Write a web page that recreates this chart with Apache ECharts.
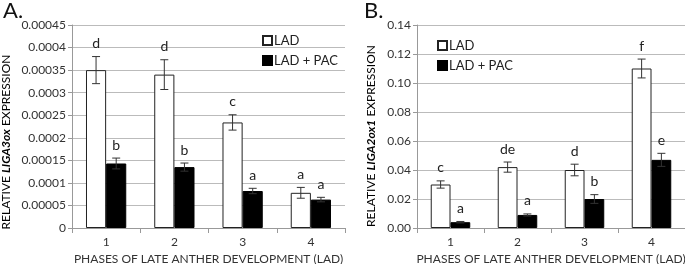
<!DOCTYPE html>
<html><head><meta charset="utf-8">
<script src="https://cdn.jsdelivr.net/npm/echarts@6/dist/echarts.min.js"></script>
<style>html,body{margin:0;padding:0;background:#fff}#c{width:685px;height:264px}</style>
</head><body><div id="c"></div>
<script>
var categories = ['1', '2', '3', '4'];
var ladA = [0.00035, 0.00034, 0.000234, 0.000078];
var ladErrA = [0.00003, 0.000033, 0.000017, 0.000012];
var pacA = [0.000143, 0.000135, 0.000082, 0.000063];
var pacErrA = [0.000012, 0.000009, 0.000006, 0.000005];
var ladLetA = ['d', 'd', 'c', 'a'];
var pacLetA = ['b', 'b', 'a', 'a'];
var ladB = [0.030, 0.042, 0.040, 0.110];
var ladErrB = [0.0025, 0.0035, 0.004, 0.0065];
var pacB = [0.004, 0.009, 0.020, 0.047];
var pacErrB = [0.0005, 0.0007, 0.003, 0.0045];
var ladLetB = ['c', 'de', 'd', 'f'];
var pacLetB = ['a', 'a', 'b', 'e'];

var FONT = 'Lato';
var chart = echarts.init(document.getElementById('c'), null, {renderer: 'canvas'});

function errSeries(name, xi, vals, errs, letters, offset) {
  return {
    type: 'custom', name: name + '_err', xAxisIndex: xi, yAxisIndex: xi, z: 5,
    silent: true,
    data: vals.map(function (v, i) { return [i, v, errs[i]]; }),
    renderItem: function (params, api) {
      var i = api.value(0), v = api.value(1), e = api.value(2);
      var size = api.size([1, 0]);
      var bw = size[0] * 0.295;
      var cx = api.coord([i, v])[0] + offset * bw;
      var top = api.coord([i, v + e])[1];
      var bot = api.coord([i, v - e])[1];
      var cap = 4;
      var st = {stroke: '#333', lineWidth: 1};
      return {type: 'group', children: [
        {type: 'line', shape: {x1: cx, y1: top, x2: cx, y2: bot}, style: st},
        {type: 'line', shape: {x1: cx - cap, y1: top, x2: cx + cap, y2: top}, style: st},
        {type: 'line', shape: {x1: cx - cap, y1: bot, x2: cx + cap, y2: bot}, style: st},
        {type: 'text', style: {text: letters[i], x: cx, y: top - 6, textAlign: 'center', textVerticalAlign: 'bottom', font: '14px "' + FONT + '"', fill: '#222'}}
      ]};
    }
  };
}

function fmtA(v) { return v === 0 ? '0' : String(parseFloat(v.toFixed(5))); }
function fmtB(v) { return v.toFixed(2); }

var axisLabelStyle = {fontFamily: FONT, fontSize: 12, color: '#333'};
var richName = {
  n: {fontFamily: FONT, fontSize: 12, color: '#333'},
  i: {fontFamily: FONT, fontSize: 12, fontStyle: 'italic', fontWeight: 'bold', color: '#333'}
};

function yTitle(x, y, gene) {
  return {type: 'text', x: x, y: y, rotation: Math.PI / 2,
    style: {text: '{n|RELATIVE }{i|' + gene + '}{n| EXPRESSION}', rich: richName,
      align: 'center', verticalAlign: 'middle'}};
}

var SQ = 'path://M0,0L10,0L10,10L0,10Z';

chart.setOption({
  animation: false,
  textStyle: {fontFamily: FONT},
  graphic: [
    {type: 'text', left: 3, top: 0, style: {text: 'A.', font: '22px "' + FONT + '"', fill: '#111'}},
    {type: 'text', left: 364, top: 0, style: {text: 'B.', font: '22px "' + FONT + '"', fill: '#111'}},
    yTitle(6, 142, 'LIGA3ox'),
    yTitle(371, 136, 'LIGA2ox1')
  ],
  legend: [
    {left: 257, top: 29, orient: 'vertical', itemGap: 7, itemWidth: 9, itemHeight: 9,
     data: [{name: 'LAD', icon: SQ}, {name: 'LAD + PAC', icon: SQ}],
     textStyle: {fontFamily: FONT, fontSize: 13, color: '#222', padding: [0, 0, 0, -3]}, selectedMode: false},
    {left: 432, top: 34, orient: 'vertical', itemGap: 7, itemWidth: 9, itemHeight: 9,
     data: [{name: 'LAD', icon: SQ}, {name: 'LAD + PAC', icon: SQ}],
     textStyle: {fontFamily: FONT, fontSize: 13, color: '#222', padding: [0, 0, 0, -3]}, selectedMode: false}
  ],
  grid: [
    {left: 72, top: 25, width: 273, height: 203, containLabel: false, outerBoundsMode: 'none'},
    {left: 417, top: 25, width: 268, height: 203, containLabel: false, outerBoundsMode: 'none'}
  ],
  xAxis: [0, 1].map(function (k) {
    return {
      type: 'category', gridIndex: k, data: categories,
      axisLine: {lineStyle: {color: '#999'}},
      axisTick: {show: true, length: 5, lineStyle: {color: '#999'}},
      axisLabel: Object.assign({margin: 8}, axisLabelStyle),
      name: 'PHASES OF LATE ANTHER DEVELOPMENT (LAD)', nameLocation: 'middle', nameGap: 24,
      nameTextStyle: {fontFamily: FONT, fontSize: 12, color: '#333'}
    };
  }),
  yAxis: [
    {type: 'value', gridIndex: 0, min: 0, max: 0.00045, interval: 0.00005,
     axisLine: {show: true, lineStyle: {color: '#999'}},
     axisTick: {show: true, length: 4, lineStyle: {color: '#999'}},
     splitLine: {lineStyle: {color: '#bbb'}},
     axisLabel: Object.assign({formatter: fmtA, margin: 6}, axisLabelStyle)},
    {type: 'value', gridIndex: 1, min: 0, max: 0.14, interval: 0.02,
     axisLine: {show: true, lineStyle: {color: '#999'}},
     axisTick: {show: true, length: 4, lineStyle: {color: '#999'}},
     splitLine: {lineStyle: {color: '#bbb'}},
     axisLabel: Object.assign({formatter: fmtB, margin: 6}, axisLabelStyle)}
  ],
  series: [
    {type: 'bar', name: 'LAD', xAxisIndex: 0, yAxisIndex: 0, data: ladA, barWidth: '29.5%', barGap: '0%',
     itemStyle: {color: '#fff', borderColor: '#222', borderWidth: 1}},
    {type: 'bar', name: 'LAD + PAC', xAxisIndex: 0, yAxisIndex: 0, data: pacA, barWidth: '29.5%', barGap: '0%',
     itemStyle: {color: '#000', borderColor: '#000', borderWidth: 1}},
    {type: 'bar', name: 'LAD', xAxisIndex: 1, yAxisIndex: 1, data: ladB, barWidth: '29.5%', barGap: '0%',
     itemStyle: {color: '#fff', borderColor: '#222', borderWidth: 1}},
    {type: 'bar', name: 'LAD + PAC', xAxisIndex: 1, yAxisIndex: 1, data: pacB, barWidth: '29.5%', barGap: '0%',
     itemStyle: {color: '#000', borderColor: '#000', borderWidth: 1}},
    errSeries('ladA', 0, ladA, ladErrA, ladLetA, -0.5),
    errSeries('pacA', 0, pacA, pacErrA, pacLetA, 0.5),
    errSeries('ladB', 1, ladB, ladErrB, ladLetB, -0.5),
    errSeries('pacB', 1, pacB, pacErrB, pacLetB, 0.5)
  ]
});
</script></body></html>
